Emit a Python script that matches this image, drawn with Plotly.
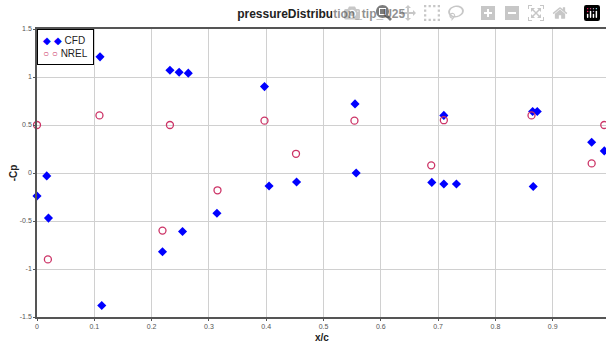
import plotly.graph_objects as go

# CFD (blue diamonds)
cfd_x = [0.0, 0.017, 0.02, 0.11, 0.113, 0.219, 0.232, 0.248, 0.264, 0.254,
         0.314, 0.397, 0.405, 0.453, 0.555, 0.557, 0.689, 0.71, 0.71, 0.732,
         0.865, 0.873, 0.866, 0.968, 0.99]
cfd_y = [-0.24, -0.03, -0.47, 1.21, -1.38, -0.82, 1.07, 1.05, 1.04, -0.61,
         -0.42, 0.9, -0.135, -0.094, 0.72, 0.0, -0.098, 0.6, -0.115, -0.115,
         0.64, 0.64, -0.14, 0.32, 0.23]

# NREL (open circles)
nrel_x = [0.0, 0.019, 0.109, 0.219, 0.232, 0.315, 0.397, 0.452, 0.554,
          0.688, 0.71, 0.863, 0.968, 0.99]
nrel_y = [0.5, -0.9, 0.6, -0.6, 0.5, -0.18, 0.545, 0.2, 0.545,
          0.08, 0.55, 0.6, 0.1, 0.5]

x_ticks = [0, 0.1, 0.2, 0.3, 0.4, 0.5, 0.6, 0.7, 0.8, 0.9]
y_ticks = [-1.5, -1, -0.5, 0, 0.5, 1, 1.5]

blue = '#0000ff'
pink = '#cc3366'

fig = go.Figure()
fig.add_trace(go.Scatter(x=cfd_x, y=cfd_y, mode='markers', name='CFD', cliponaxis=False,
                         marker=dict(symbol='diamond', size=7, color=blue,
                                     line=dict(width=0))))
fig.add_trace(go.Scatter(x=nrel_x, y=nrel_y, mode='markers', name='NREL', cliponaxis=False,
                         marker=dict(symbol='circle-open', size=7, color=pink,
                                     line=dict(width=1.3))))

# compact legend box, like the original (two symbols per entry)
legend_text = ("<span style='color:%s'>◆ ◆</span> CFD<br>"
               "<span style='color:%s'>○ ○</span> NREL") % (blue, pink)
fig.add_annotation(text=legend_text, xref='paper', yref='paper', x=0, y=1,
                   xanchor='left', yanchor='top', align='left', showarrow=False,
                   bgcolor='white', bordercolor='black', borderwidth=1, borderpad=5,
                   font=dict(size=10, color='#222222'))
fig.add_annotation(text='<b>x/c</b>', xref='paper', yref='paper', x=0.5, y=0,
                   xanchor='center', yanchor='top', yshift=-13, showarrow=False,
                   font=dict(size=10, color='#222222'))

fig.update_layout(
    width=606, height=344,
    margin=dict(l=37, r=0, t=29, b=27, autoexpand=False),
    paper_bgcolor='white', plot_bgcolor='white',
    font=dict(family='Liberation Sans, Arial', color='#333333'),
    title=dict(text='<b>pressureDistribution_tip_U25</b>', x=0.53, xanchor='center',
               y=0.972, yanchor='top', font=dict(size=12, color='#222222')),
    showlegend=False,
)
fig.update_xaxes(range=[0, 0.993], tickvals=x_ticks, ticktext=[str(v) for v in x_ticks],
                 automargin=False,
                 showgrid=True, gridcolor='#d0d0d0', gridwidth=1,
                 showline=True, linecolor='#555555', linewidth=1.5, mirror=True,
                 zeroline=False, ticks='outside', ticklen=2, tickcolor='#555555',
                 tickfont=dict(size=7, color='#555555'))
fig.update_yaxes(range=[-1.5, 1.5], tickvals=y_ticks, ticktext=[str(v) for v in y_ticks],
                 automargin=False,
                 showgrid=True, gridcolor='#d0d0d0', gridwidth=1,
                 showline=True, linecolor='#555555', linewidth=1.5, mirror=True,
                 zeroline=False, ticks='outside', ticklen=2, tickcolor='#555555',
                 tickfont=dict(size=7, color='#555555'),
                 title=dict(text='<b>-Cp</b>', font=dict(size=10, color='#222222'),
                            standoff=0))

# drop the page's default 8px body margin so the figure fills the window
fig.write_html("out.html",
               post_script="document.body.style.margin='0';document.body.style.overflow='hidden';")
